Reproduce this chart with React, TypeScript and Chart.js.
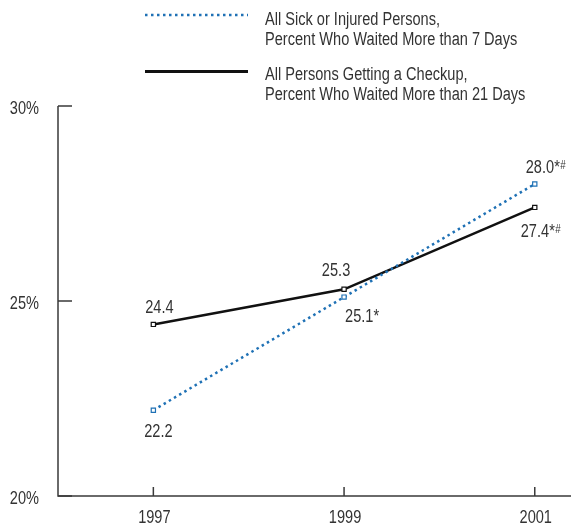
import React, { useEffect, useRef } from "react";
import { Chart, registerables } from "chart.js";

Chart.register(...registerables);

// ---- data ----
const years = [1997, 1999, 2001];
const sickValues = [22.2, 25.1, 28.0];
const sickMarks = ["", "*", "*#"];
const checkupValues = [24.4, 25.3, 27.4];
const checkupMarks = ["", "", "*#"];
const yTicks = [20, 25, 30];
const legendSick = ["All Sick or Injured Persons,", "Percent Who Waited More than 7 Days"];
const legendCheckup = ["All Persons Getting a Checkup,", "Percent Who Waited More than 21 Days"];

// ---- styles ----
const FONT = '"Liberation Sans", Arial, sans-serif';
const SX = 0.81; // horizontal condensing of text
const TEXT = "#333333";
const AXIS = "#3a3a3a";
const BLUE = "#1f71b5";
const BLACK = "#111111";

// label placements (dx, dy to baseline relative to point, align)
const sickPlacement = [
  { dx: 5, dy: 27, align: "center" },
  { dx: 1, dy: 24.5, align: "left" },
  { dx: -9, dy: -11.5, align: "left" },
];
const checkupPlacement = [
  { dx: 6, dy: -11.5, align: "center" },
  { dx: -8, dy: -13.5, align: "center" },
  { dx: -14, dy: 29.5, align: "left" },
];

function textWidth(ctx: any, text: string, size: number) {
  ctx.font = `${size}px ${FONT}`;
  return ctx.measureText(text).width * SX;
}

function drawText(ctx: any, text: string, x: number, y: number, size: number, align: string) {
  const w = textWidth(ctx, text, size);
  const left = align === "center" ? x - w / 2 : align === "right" ? x - w : x;
  ctx.save();
  ctx.font = `${size}px ${FONT}`;
  ctx.textAlign = "left";
  ctx.textBaseline = "alphabetic";
  ctx.fillStyle = TEXT;
  ctx.translate(left, y);
  ctx.scale(SX, 1);
  ctx.fillText(text, 0, 0);
  ctx.restore();
  return w;
}

const axesPlugin = {
  id: "customAxes",
  beforeDatasetsDraw(chart: any) {
    const { ctx, chartArea } = chart;
    const xs = chart.scales.x;
    const ys = chart.scales.y;
    ctx.save();
    ctx.strokeStyle = AXIS;
    ctx.lineWidth = 1.5;
    ctx.setLineDash([]);
    ctx.beginPath();
    ctx.moveTo(chartArea.left, chartArea.top);
    ctx.lineTo(chartArea.left, chartArea.bottom);
    ctx.lineTo(chartArea.right, chartArea.bottom);
    ctx.stroke();
    ctx.beginPath();
    yTicks.forEach((v) => {
      const py = ys.getPixelForValue(v);
      ctx.moveTo(chartArea.left, py);
      ctx.lineTo(chartArea.left + 14, py);
    });
    years.forEach((v) => {
      const px = xs.getPixelForValue(v);
      ctx.moveTo(px, chartArea.bottom);
      ctx.lineTo(px, chartArea.bottom - 9);
    });
    ctx.stroke();
    ctx.restore();
    // tick labels
    yTicks.forEach((v) => {
      const py = ys.getPixelForValue(v);
      drawText(ctx, v + "%", chartArea.left - 19, py + 8, 18, "right");
    });
    years.forEach((v) => {
      const px = xs.getPixelForValue(v);
      drawText(ctx, String(v), px + 1, chartArea.bottom + 27, 18, "center");
    });
  },
};

function drawLabel(ctx: any, x: number, y: number, value: number, mark: string, align: string) {
  const main = value.toFixed(1) + (mark.includes("*") ? "*" : "");
  const sup = mark.includes("#") ? "#" : "";
  const wMain = textWidth(ctx, main, 18);
  const wSup = sup ? textWidth(ctx, sup, 12) : 0;
  const total = wMain + wSup;
  const left = align === "center" ? x - total / 2 : x;
  drawText(ctx, main, left, y, 18, "left");
  if (sup) drawText(ctx, sup, left + wMain + 0.5, y - 4, 12, "left");
}

const labelsPlugin = {
  id: "valueLabels",
  afterDatasetsDraw(chart: any) {
    const { ctx } = chart;
    const sets = [
      { idx: 0, values: sickValues, marks: sickMarks, place: sickPlacement },
      { idx: 1, values: checkupValues, marks: checkupMarks, place: checkupPlacement },
    ];
    sets.forEach((s) => {
      const meta = chart.getDatasetMeta(s.idx);
      meta.data.forEach((pt: any, i: number) => {
        const p = s.place[i];
        drawLabel(ctx, pt.x + p.dx, pt.y + p.dy, s.values[i], s.marks[i], p.align);
      });
    });
  },
};

const legendPlugin = {
  id: "customLegend",
  afterDraw(chart: any) {
    const { ctx } = chart;
    ctx.save();
    ctx.strokeStyle = BLUE;
    ctx.lineWidth = 2.5;
    ctx.setLineDash([2.5, 3.5]);
    ctx.beginPath();
    ctx.moveTo(145, 15);
    ctx.lineTo(248, 15);
    ctx.stroke();
    ctx.setLineDash([]);
    ctx.strokeStyle = BLACK;
    ctx.lineWidth = 3;
    ctx.beginPath();
    ctx.moveTo(145, 71.5);
    ctx.lineTo(248, 71.5);
    ctx.stroke();
    ctx.restore();
    drawText(ctx, legendSick[0], 265, 25, 18, "left");
    drawText(ctx, legendSick[1], 265, 45, 18, "left");
    drawText(ctx, legendCheckup[0], 265, 80, 18, "left");
    drawText(ctx, legendCheckup[1], 265, 100, 18, "left");
  },
};

export default function App() {
  const canvasRef = useRef<HTMLCanvasElement>(null);

  useEffect(() => {
    document.body.style.margin = "0";
    const canvas = canvasRef.current;
    if (!canvas) return;
    const chart = new Chart(canvas, {
      type: "line",
      data: {
        datasets: [
          {
            label: legendSick.join(" "),
            data: years.map((y, i) => ({ x: y, y: sickValues[i] })),
            borderColor: BLUE,
            borderWidth: 2.5,
            borderDash: [2.5, 3.5],
            pointStyle: "rect",
            pointRadius: 3,
            pointBorderWidth: 1.2,
            pointBackgroundColor: "#ffffff",
            pointBorderColor: BLUE,
            tension: 0,
            clip: false as any,
          },
          {
            label: legendCheckup.join(" "),
            data: years.map((y, i) => ({ x: y, y: checkupValues[i] })),
            borderColor: BLACK,
            borderWidth: 2.5,
            pointStyle: "rect",
            pointRadius: 3,
            pointBorderWidth: 1.2,
            pointBackgroundColor: "#ffffff",
            pointBorderColor: BLACK,
            tension: 0,
            clip: false as any,
          },
        ],
      },
      options: {
        animation: false,
        responsive: false,
        devicePixelRatio: 1,
        layout: { autoPadding: false, padding: { top: 106, left: 0, right: 0, bottom: 0 } },
        plugins: {
          legend: { display: false },
          tooltip: { enabled: false },
        },
        scales: {
          x: {
            type: "linear",
            min: 1996,
            max: 2001.38,
            grid: { display: false, drawTicks: false },
            border: { display: false },
            afterBuildTicks: (scale: any) => {
              scale.ticks = years.map((v) => ({ value: v }));
            },
            afterFit: (scale: any) => {
              scale.height = 33;
            },
            ticks: { display: false },
          },
          y: {
            type: "linear",
            min: 20,
            max: 30,
            grid: { display: false, drawTicks: false },
            border: { display: false },
            afterBuildTicks: (scale: any) => {
              scale.ticks = yTicks.map((v) => ({ value: v }));
            },
            afterFit: (scale: any) => {
              scale.width = 58;
            },
            ticks: { display: false },
          },
        },
      },
      plugins: [axesPlugin, labelsPlugin, legendPlugin],
    });
    return () => chart.destroy();
  }, []);

  return (
    <div style={{ width: 571, height: 529, position: "relative", background: "#ffffff" }}>
      <canvas ref={canvasRef} width={571} height={529} style={{ display: "block" }} />
    </div>
  );
}
